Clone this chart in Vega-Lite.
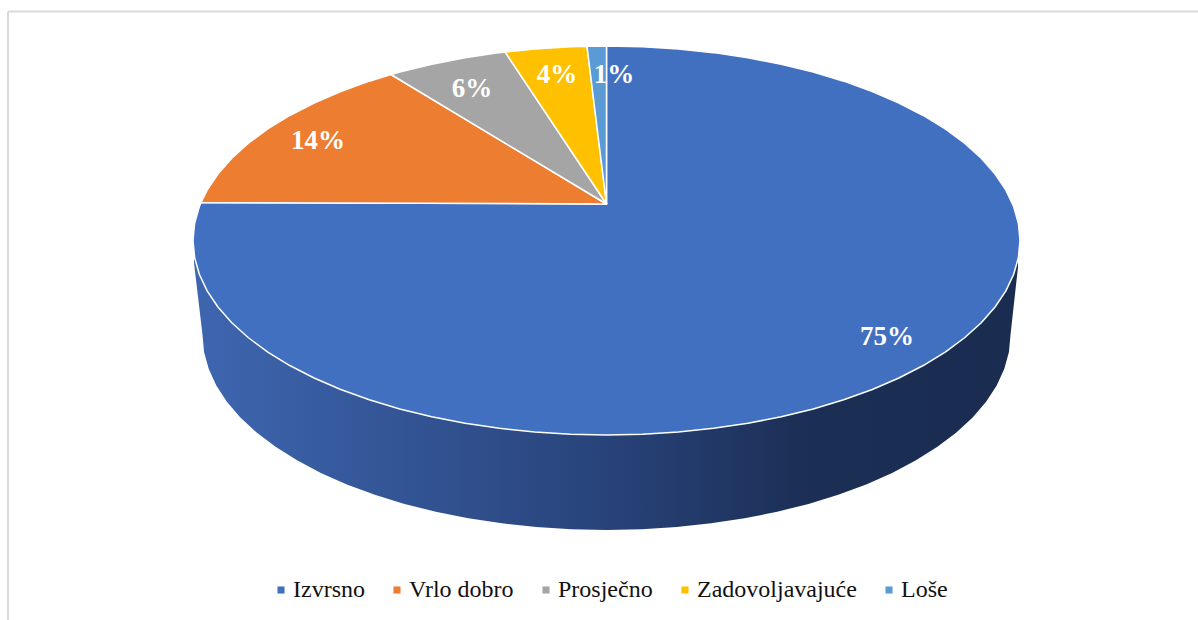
{
"$schema":"https://vega.github.io/schema/vega-lite/v6.json",
"width":1198,"height":620,"padding":0,
"autosize":{"type":"fit","contains":"padding"},
"background":"white",
"config":{"view":{"stroke":null}},
"datasets":{
"frame":[{"x":-1.4474,"x2":1.4305,"y":1.1774,"y2":1.1774,"part":"top"},{"x":-1.4474,"x2":-1.4474,"y":1.1774,"y2":-1.9512,"part":"left"}],
"side":[
{"x":-0.9976,"low":-0.1157},{"x":-0.977,"low":-0.4859},{"x":-0.9733,"low":-0.5733},{"x":-0.9621,"low":-0.66},{"x":-0.9437,"low":-0.7454},{"x":-0.9181,"low":-0.8288},{"x":-0.8855,"low":-0.9096},{"x":-0.8461,"low":-0.9872},{"x":-0.8004,"low":-1.061},{"x":-0.7484,"low":-1.1304},{"x":-0.6908,"low":-1.1948},{"x":-0.628,"low":-1.2539},{"x":-0.5604,"low":-1.3072},{"x":-0.4885,"low":-1.3542},{"x":-0.4129,"low":-1.3946},{"x":-0.3341,"low":-1.428},{"x":-0.2528,"low":-1.4543},{"x":-0.1696,"low":-1.4733},{"x":-0.0852,"low":-1.4847},{"x":0,"low":-1.4885},
{"x":0.0852,"low":-1.4847},{"x":0.1696,"low":-1.4733},{"x":0.2528,"low":-1.4543},{"x":0.3341,"low":-1.428},{"x":0.4129,"low":-1.3946},{"x":0.4885,"low":-1.3542},{"x":0.5604,"low":-1.3072},{"x":0.628,"low":-1.2539},{"x":0.6908,"low":-1.1948},{"x":0.7484,"low":-1.1304},{"x":0.8004,"low":-1.061},{"x":0.8461,"low":-0.9872},{"x":0.8855,"low":-0.9096},{"x":0.9181,"low":-0.8288},{"x":0.9437,"low":-0.7454},{"x":0.9621,"low":-0.66},{"x":0.9733,"low":-0.5733},{"x":0.977,"low":-0.4859},{"x":0.9952,"low":-0.1362}
],
"slices":[
{"category":"Izvrsno","step":1,"x":0,"y":1},{"category":"Izvrsno","step":2,"x":0.0872,"y":0.9962},{"category":"Izvrsno","step":3,"x":0.1736,"y":0.9848},{"category":"Izvrsno","step":4,"x":0.2588,"y":0.9659},{"category":"Izvrsno","step":5,"x":0.342,"y":0.9397},{"category":"Izvrsno","step":6,"x":0.4226,"y":0.9063},{"category":"Izvrsno","step":7,"x":0.5,"y":0.866},{"category":"Izvrsno","step":8,"x":0.5736,"y":0.8192},{"category":"Izvrsno","step":9,"x":0.6428,"y":0.766},{"category":"Izvrsno","step":10,"x":0.7071,"y":0.7071},{"category":"Izvrsno","step":11,"x":0.766,"y":0.6428},{"category":"Izvrsno","step":12,"x":0.8192,"y":0.5736},{"category":"Izvrsno","step":13,"x":0.866,"y":0.5},{"category":"Izvrsno","step":14,"x":0.9063,"y":0.4226},{"category":"Izvrsno","step":15,"x":0.9397,"y":0.342},{"category":"Izvrsno","step":16,"x":0.9659,"y":0.2588},{"category":"Izvrsno","step":17,"x":0.9848,"y":0.1736},{"category":"Izvrsno","step":18,"x":0.9962,"y":0.0872},{"category":"Izvrsno","step":19,"x":1,"y":0},
{"category":"Izvrsno","step":20,"x":0.9962,"y":-0.0872},{"category":"Izvrsno","step":21,"x":0.9848,"y":-0.1736},{"category":"Izvrsno","step":22,"x":0.9659,"y":-0.2588},{"category":"Izvrsno","step":23,"x":0.9397,"y":-0.342},{"category":"Izvrsno","step":24,"x":0.9063,"y":-0.4226},{"category":"Izvrsno","step":25,"x":0.866,"y":-0.5},{"category":"Izvrsno","step":26,"x":0.8192,"y":-0.5736},{"category":"Izvrsno","step":27,"x":0.766,"y":-0.6428},{"category":"Izvrsno","step":28,"x":0.7071,"y":-0.7071},{"category":"Izvrsno","step":29,"x":0.6428,"y":-0.766},{"category":"Izvrsno","step":30,"x":0.5736,"y":-0.8192},{"category":"Izvrsno","step":31,"x":0.5,"y":-0.866},{"category":"Izvrsno","step":32,"x":0.4226,"y":-0.9063},{"category":"Izvrsno","step":33,"x":0.342,"y":-0.9397},{"category":"Izvrsno","step":34,"x":0.2588,"y":-0.9659},{"category":"Izvrsno","step":35,"x":0.1736,"y":-0.9848},{"category":"Izvrsno","step":36,"x":0.0872,"y":-0.9962},{"category":"Izvrsno","step":37,"x":0,"y":-1},
{"category":"Izvrsno","step":38,"x":-0.0872,"y":-0.9962},{"category":"Izvrsno","step":39,"x":-0.1736,"y":-0.9848},{"category":"Izvrsno","step":40,"x":-0.2588,"y":-0.9659},{"category":"Izvrsno","step":41,"x":-0.342,"y":-0.9397},{"category":"Izvrsno","step":42,"x":-0.4226,"y":-0.9063},{"category":"Izvrsno","step":43,"x":-0.5,"y":-0.866},{"category":"Izvrsno","step":44,"x":-0.5736,"y":-0.8192},{"category":"Izvrsno","step":45,"x":-0.6428,"y":-0.766},{"category":"Izvrsno","step":46,"x":-0.7071,"y":-0.7071},{"category":"Izvrsno","step":47,"x":-0.766,"y":-0.6428},{"category":"Izvrsno","step":48,"x":-0.8192,"y":-0.5736},{"category":"Izvrsno","step":49,"x":-0.866,"y":-0.5},{"category":"Izvrsno","step":50,"x":-0.9063,"y":-0.4226},{"category":"Izvrsno","step":51,"x":-0.9397,"y":-0.342},{"category":"Izvrsno","step":52,"x":-0.9659,"y":-0.2588},{"category":"Izvrsno","step":53,"x":-0.9848,"y":-0.1736},{"category":"Izvrsno","step":54,"x":-0.9962,"y":-0.0872},{"category":"Izvrsno","step":55,"x":-1,"y":0},{"category":"Izvrsno","step":56,"x":-0.9962,"y":0.0872},{"category":"Izvrsno","step":57,"x":-0.9848,"y":0.1736},{"category":"Izvrsno","step":58,"x":-0.9807,"y":0.1957},{"category":"Izvrsno","step":59,"x":0,"y":0.1877},{"category":"Izvrsno","step":60,"x":0,"y":1},
{"category":"Vrlo dobro","step":1,"x":-0.9807,"y":0.1957},{"category":"Vrlo dobro","step":2,"x":-0.9659,"y":0.2588},{"category":"Vrlo dobro","step":3,"x":-0.9397,"y":0.342},{"category":"Vrlo dobro","step":4,"x":-0.9063,"y":0.4226},{"category":"Vrlo dobro","step":5,"x":-0.866,"y":0.5},{"category":"Vrlo dobro","step":6,"x":-0.8192,"y":0.5736},{"category":"Vrlo dobro","step":7,"x":-0.766,"y":0.6428},{"category":"Vrlo dobro","step":8,"x":-0.7071,"y":0.7071},{"category":"Vrlo dobro","step":9,"x":-0.6428,"y":0.766},{"category":"Vrlo dobro","step":10,"x":-0.5736,"y":0.8192},{"category":"Vrlo dobro","step":11,"x":-0.5212,"y":0.8535},{"category":"Vrlo dobro","step":12,"x":0,"y":0.1877},{"category":"Vrlo dobro","step":13,"x":-0.9807,"y":0.1957},
{"category":"Prosječno","step":1,"x":-0.5212,"y":0.8535},{"category":"Prosječno","step":2,"x":-0.5,"y":0.866},{"category":"Prosječno","step":3,"x":-0.4226,"y":0.9063},{"category":"Prosječno","step":4,"x":-0.342,"y":0.9397},{"category":"Prosječno","step":5,"x":-0.2588,"y":0.9659},{"category":"Prosječno","step":6,"x":-0.2455,"y":0.9694},{"category":"Prosječno","step":7,"x":0,"y":0.1877},{"category":"Prosječno","step":8,"x":-0.5212,"y":0.8535},
{"category":"Zadovoljavajuće","step":1,"x":-0.2455,"y":0.9694},{"category":"Zadovoljavajuće","step":2,"x":-0.1736,"y":0.9848},{"category":"Zadovoljavajuće","step":3,"x":-0.0872,"y":0.9962},{"category":"Zadovoljavajuće","step":4,"x":-0.0472,"y":0.9989},{"category":"Zadovoljavajuće","step":5,"x":0,"y":0.1877},{"category":"Zadovoljavajuće","step":6,"x":-0.2455,"y":0.9694},
{"category":"Loše","step":1,"x":-0.0472,"y":0.9989},{"category":"Loše","step":2,"x":0,"y":1},{"category":"Loše","step":3,"x":0,"y":0.1877},{"category":"Loše","step":4,"x":-0.0472,"y":0.9989}
],
"labels":[
{"label":"75%","x":0.6784,"y":-0.491},{"label":"14%","x":-0.6977,"y":0.5167},{"label":"6%","x":-0.3253,"y":0.7841},{"label":"4%","x":-0.1197,"y":0.856},{"label":"1%","x":0.0181,"y":0.856}
]
},
"layer":[
{"data":{"name":"frame"},"mark":{"type":"rule","color":"#d9d9d9","strokeWidth":2,"clip":true},
 "encoding":{"x":{"field":"x","type":"quantitative","axis":null,"scale":{"domain":[-1.4668,1.4305],"nice":false,"zero":false}},"x2":{"field":"x2"},"y":{"field":"y","type":"quantitative","axis":null,"scale":{"domain":[-1.9512,1.2365],"nice":false,"zero":false}},"y2":{"field":"y2"}}},
{"data":{"name":"side"},"mark":{"type":"area","color":{"gradient":"linear","x1":0,"y1":0,"x2":1,"y2":0,"stops":[{"offset":0,"color":"#3E66B0"},{"offset":0.5,"color":"#28437A"},{"offset":0.75,"color":"#1B2E54"},{"offset":1,"color":"#1A2C50"}]}},
 "encoding":{"x":{"field":"x","type":"quantitative","axis":null},"y":{"field":"low","type":"quantitative","axis":null},"y2":{"datum":0}}},
{"data":{"name":"slices"},"mark":{"type":"line","filled":true,"stroke":"white","strokeWidth":1.5,"strokeJoin":"round"},
 "encoding":{"x":{"field":"x","type":"quantitative","axis":null},"y":{"field":"y","type":"quantitative","axis":null},"order":{"field":"step","type":"quantitative"},
 "fill":{"field":"category","type":"nominal","scale":{"domain":["Izvrsno","Vrlo dobro","Prosječno","Zadovoljavajuće","Loše"],"range":["#4270C0","#ED7D31","#A5A5A5","#FFC000","#5B9BD5"]},
 "legend":{"title":null,"orient":"none","legendX":269,"legendY":578,"direction":"horizontal","columns":5,"symbolType":"square","symbolSize":50,"symbolStrokeWidth":0,"symbolStrokeColor":"transparent","labelFont":"Liberation Serif","labelFontSize":24,"labelColor":"#111111","labelOffset":0,"columnPadding":20,"labelLimit":300}}}},
{"data":{"name":"labels"},"mark":{"type":"text","font":"Liberation Serif","fontWeight":"bold","fontSize":27,"color":"white","align":"center","baseline":"middle","dy":1},
 "encoding":{"x":{"field":"x","type":"quantitative","axis":null},"y":{"field":"y","type":"quantitative","axis":null},"text":{"field":"label","type":"nominal"}}}
]
}
